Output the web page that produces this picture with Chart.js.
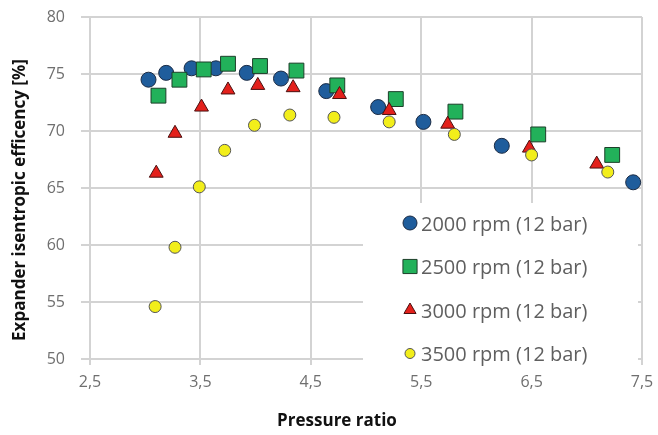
<!DOCTYPE html>
<html>
<head>
<meta charset="utf-8">
<script src="https://cdn.jsdelivr.net/npm/chart.js@4/dist/chart.umd.min.js"></script>
<style>
  html, body { margin: 0; padding: 0; background: #fff; }
  #wrap { width: 658px; height: 435px; }
</style>
</head>
<body>
<div id="wrap"><canvas id="chart" width="658" height="435"></canvas></div>
<script>
// data
const seriesNames = ['2000 rpm (12 bar)', '2500 rpm (12 bar)', '3000 rpm (12 bar)', '3500 rpm (12 bar)'];
const x2000 = [3.03, 3.19, 3.42, 3.64, 3.92, 4.23, 4.64, 5.11, 5.52, 6.23, 7.42];
const y2000 = [74.5, 75.1, 75.5, 75.5, 75.1, 74.6, 73.5, 72.1, 70.8, 68.7, 65.5];
const x2500 = [3.12, 3.31, 3.53, 3.75, 4.04, 4.37, 4.74, 5.27, 5.81, 6.56, 7.23];
const y2500 = [73.1, 74.5, 75.4, 75.9, 75.7, 75.3, 74.0, 72.8, 71.7, 69.7, 67.9];
const x3000 = [3.10, 3.27, 3.51, 3.75, 4.02, 4.34, 4.76, 5.21, 5.74, 6.48, 7.09];
const y3000 = [66.3, 69.8, 72.1, 73.6, 74.0, 73.8, 73.2, 71.8, 70.6, 68.5, 67.1];
const x3500 = [3.09, 3.27, 3.49, 3.72, 3.99, 4.31, 4.71, 5.21, 5.80, 6.50, 7.19];
const y3500 = [54.6, 59.8, 65.1, 68.3, 70.5, 71.4, 71.2, 70.8, 69.7, 67.9, 66.4];
const xTicks = [2.5, 3.5, 4.5, 5.5, 6.5, 7.5];
const yTicks = [50, 55, 60, 65, 70, 75, 80];

const pts = (xs, ys) => xs.map((x, i) => ({ x: x, y: ys[i] }));
const comma = v => Number(v).toFixed(1).replace('.', ',');
const gridColor = '#d3d3d3';

// legend drawn inside the plot, lower right, on a white box
const insideLegend = {
  id: 'insideLegend',
  beforeDatasetsDraw(chart) {
    const ctx = chart.ctx;
    const a = chart.chartArea;
    const bx = a.left + 273, by = a.top + 186;
    ctx.save();
    ctx.fillStyle = '#fff';
    ctx.fillRect(bx, by, a.right - bx - 4, a.bottom - by + 12);
    ctx.font = '20px "Open Sans"';
    ctx.textBaseline = 'middle';
    chart.data.datasets.forEach((ds, i) => {
      const iy = by + 20 + i * 43.5;
      ctx.fillStyle = ds.backgroundColor;
      ctx.strokeStyle = ds.borderColor;
      ctx.lineWidth = 1;
      Chart.helpers.drawPoint(ctx, {
        pointStyle: ds.pointStyle,
        radius: ds.legendRadius,
        rotation: 0,
        borderWidth: 1
      }, bx + 47, iy);
      ctx.fillStyle = '#5f5f5f';
      ctx.fillText(ds.label, bx + 58, iy + 2);
    });
    ctx.restore();
  }
};

// axis titles
const axisTitles = {
  id: 'axisTitles',
  afterDraw(chart) {
    const ctx = chart.ctx;
    ctx.save();
    ctx.font = 'bold 17px "Open Sans"';
    ctx.fillStyle = '#111';
    ctx.textAlign = 'center';
    ctx.textBaseline = 'middle';
    ctx.fillText('Pressure ratio', chart.width / 2 + 8, 421);
    ctx.translate(20, 200);
    ctx.rotate(-Math.PI / 2);
    ctx.fillText('Expander isentropic efficency [%]', 0, 0);
    ctx.restore();
  }
};

new Chart(document.getElementById('chart'), {
  type: 'scatter',
  data: {
    datasets: [{
      label: seriesNames[0],
      data: pts(x2000, y2000),
      pointStyle: 'circle',
      pointRadius: 7.5,
      legendRadius: 7,
      backgroundColor: '#1f5d9c',
      borderColor: '#1b2b44',
      order: 4
    }, {
      label: seriesNames[1],
      data: pts(x2500, y2500),
      pointStyle: 'rect',
      pointRadius: 10.5,
      legendRadius: 10,
      backgroundColor: '#22b15a',
      borderColor: '#1d3f2a',
      order: 3
    }, {
      label: seriesNames[2],
      data: pts(x3000, y3000),
      pointStyle: 'triangle',
      pointRadius: 8,
      legendRadius: 7,
      backgroundColor: '#e3201b',
      borderColor: '#4a1010',
      order: 2
    }, {
      label: seriesNames[3],
      data: pts(x3500, y3500),
      pointStyle: 'circle',
      pointRadius: 6,
      legendRadius: 5,
      backgroundColor: '#f2ee1a',
      borderColor: '#555',
      order: 1
    }]
  },
  options: {
    responsive: false,
    animation: false,
    layout: { padding: { top: 17, right: 16, left: 0, bottom: 0 } },
    elements: { point: { borderWidth: 1, hoverRadius: 8 } },
    plugins: { legend: { display: false }, tooltip: { enabled: false } },
    scales: {
      x: {
        type: 'linear',
        min: 2.5,
        max: 7.5,
        afterBuildTicks: s => { s.ticks = xTicks.map(v => ({ value: v })); },
        afterFit: s => { s.height = 76; s.paddingLeft = 0; s.paddingRight = 0; },
        grid: { color: gridColor, lineWidth: 2, tickLength: 6 },
        border: { color: gridColor, width: 2 },
        ticks: {
          callback: comma,
          color: '#6f6f6f',
          padding: 8,
          maxRotation: 0,
          font: { family: 'Open Sans', size: 16 }
        }
      },
      y: {
        min: 50,
        max: 80,
        afterBuildTicks: s => { s.ticks = yTicks.map(v => ({ value: v })); },
        afterFit: s => { s.width = 90; s.paddingTop = 0; s.paddingBottom = 0; },
        grid: { color: gridColor, lineWidth: 2, tickLength: 9 },
        border: { color: gridColor, width: 2 },
        ticks: {
          color: '#6f6f6f',
          padding: 16,
          font: { family: 'Open Sans', size: 16 }
        }
      }
    }
  },
  plugins: [insideLegend, axisTitles]
});
</script>
</body>
</html>
